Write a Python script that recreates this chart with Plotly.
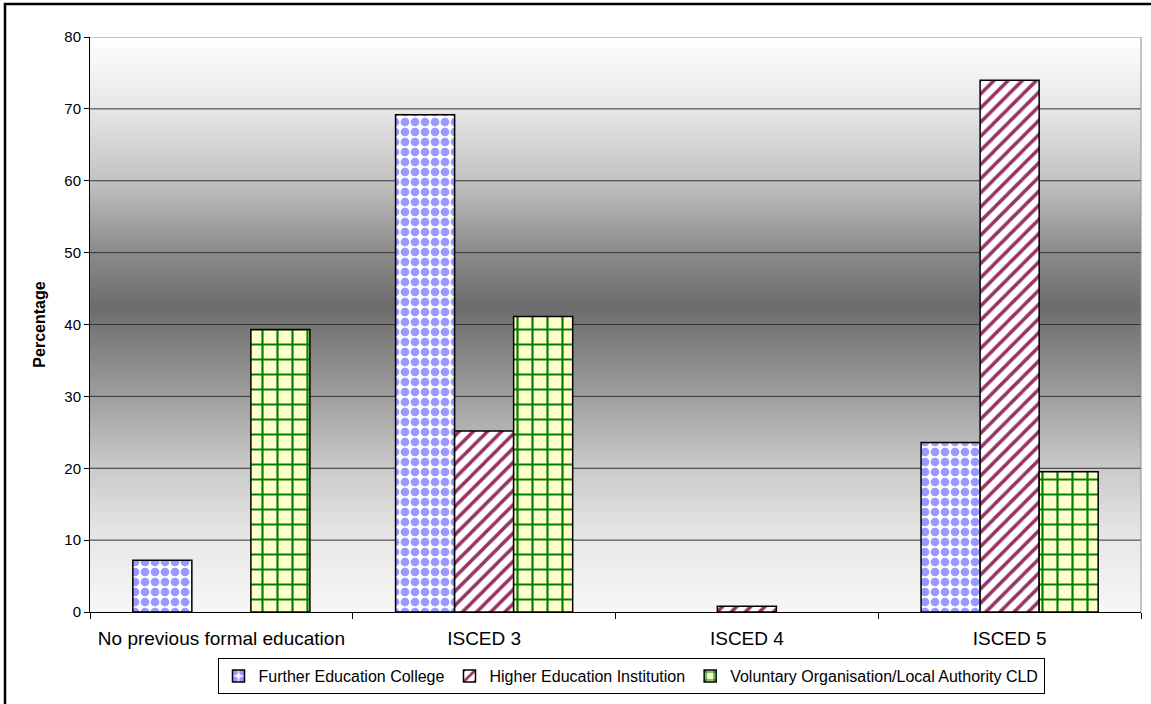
import plotly.graph_objects as go

# Prior qualification level of learners, by type of provider
categories = ["No previous formal education", "ISCED 3", "ISCED 4", "ISCED 5"]
further_education = [7.2, 69.2, None, 23.6]
higher_education = [None, 25.2, 0.8, 74.0]
voluntary_cld = [39.3, 41.1, None, 19.5]

y_ticks = [0, 10, 20, 30, 40, 50, 60, 70, 80]
y_max = 80

FONT = "Liberation Sans, Arial, sans-serif"

fig = go.Figure()

# Plot-area background: vertical grey gradient (light at the edges, dark in the middle)
fig.add_trace(go.Scatter(
    x=[0, 1, 1, 0, 0], y=[0, 0, y_max, y_max, 0],
    xaxis="x", yaxis="y", mode="lines", line=dict(width=0),
    fill="toself",
    fillgradient=dict(
        type="vertical",
        colorscale=[
            [0.00, "#f7f7f7"], [0.125, "#e8e8e8"], [0.25, "#cacaca"],
            [0.375, "#9e9e9e"], [0.53, "#6c6c6c"], [0.63, "#8c8c8c"],
            [0.75, "#c2c2c2"], [0.875, "#e6e6e6"], [1.00, "#ffffff"],
        ],
    ),
    hoverinfo="skip", showlegend=False,
))

# Horizontal gridlines drawn over the gradient, beneath the bars
for v in y_ticks[1:]:
    fig.add_trace(go.Scatter(
        x=[0, 1], y=[v, v], xaxis="x", yaxis="y", mode="lines",
        line=dict(color="#8c8c8c" if v == y_max else "#333333", width=1),
        hoverinfo="skip", showlegend=False,
    ))

# Bars
series = [
    ("Further Education College", further_education,
     dict(shape=".", fgcolor="#9999ff", bgcolor="#ffffff", size=10, solidity=0.6, fgopacity=1)),
    ("Higher Education Institution", higher_education,
     dict(shape="/", fgcolor="#993366", bgcolor="#ffffff", size=10, solidity=0.35, fgopacity=1)),
    ("Voluntary Organisation/Local Authority CLD", voluntary_cld,
     dict(shape="+", fgcolor="#008000", bgcolor="#ffffcc", size=15, solidity=0.27, fgopacity=1)),
]
for name, vals, patt in series:
    fig.add_trace(go.Bar(
        x=categories, y=vals, name=name, xaxis="x2", yaxis="y2",
        marker=dict(color=patt["bgcolor"], pattern=patt,
                    line=dict(color="#000000", width=1.5)),
    ))

L, R, T, B = 90, 10, 37, 92
W, H = 1151, 704
pw, ph = W - L - R, H - T - B

fig.update_layout(
    width=W, height=H,
    margin=dict(l=L, r=R, t=T, b=B),
    paper_bgcolor="#ffffff", plot_bgcolor="rgba(0,0,0,0)",
    font=dict(family=FONT, color="#000000", size=16),
    barmode="group", bargap=0.326, bargroupgap=0,
    xaxis=dict(range=[0, 1], visible=False, fixedrange=True),
    yaxis=dict(range=[0, y_max], visible=False, fixedrange=True),
    xaxis2=dict(
        overlaying="x", type="category", showgrid=False,
        showline=True, linecolor="#000000", linewidth=1,
        ticks="outside", tickson="boundaries", ticklen=6, tickcolor="#000000",
        tickfont=dict(size=19), ticklabelstandoff=9,
    ),
    yaxis2=dict(
        overlaying="y", range=[0, y_max], tickvals=y_ticks, showgrid=False,
        showline=True, linecolor="#000000", linewidth=1,
        ticks="outside", ticklen=5, tickcolor="#000000", tickfont=dict(size=15),
        zeroline=False,
        title=dict(text="Percentage", font=dict(size=16, weight="bold"), standoff=14),
    ),
    legend=dict(
        orientation="h", x=(631 - L) / pw, xanchor="center",
        y=(T + ph - 658) / ph, yanchor="top",
        bordercolor="#000000", borderwidth=1, bgcolor="#ffffff",
        font=dict(size=16), itemwidth=30, tracegroupgap=0,
    ),
    shapes=[
        # right border of the plot area
        dict(type="line", xref="paper", yref="paper", x0=1, x1=1, y0=0, y1=1,
             line=dict(color="#8c8c8c", width=1)),
        # frame around the whole chart
        dict(type="rect", xref="paper", yref="paper",
             x0=(5 - L) / pw, x1=(W + 10 - L) / pw,
             y0=(T + ph - (H + 10)) / ph, y1=(T + ph - 4) / ph,
             line=dict(color="#000000", width=2.5)),
    ],
)

fig.write_html("out.html")
